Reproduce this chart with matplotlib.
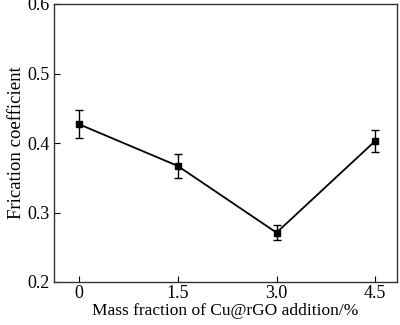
import matplotlib
matplotlib.use("Agg")
import matplotlib.pyplot as plt

# data
mass_fraction = [0, 1.5, 3.0, 4.5]
friction = [0.427, 0.367, 0.271, 0.403]
friction_err = [0.020, 0.017, 0.011, 0.016]
x_ticks = [0, 1.5, 3.0, 4.5]
x_tick_labels = ["0", "1.5", "3.0", "4.5"]
y_ticks = [0.2, 0.3, 0.4, 0.5, 0.6]

plt.rcParams["font.family"] = ["Liberation Serif", "DejaVu Serif"]

fig = plt.figure(figsize=(4.0, 3.25), dpi=100)
ax = fig.add_axes([54 / 400, 1 - 282 / 325, (397 - 54) / 400, (282 - 4) / 325])

ax.errorbar(
    mass_fraction, friction, yerr=friction_err,
    color="black", lw=1.3, marker="s", ms=5,
    elinewidth=1.0, capsize=3, capthick=1.0,
)

ax.set_xlim(-0.38, 4.83)
ax.set_ylim(0.2, 0.6)
ax.set_xticks(x_ticks)
ax.set_xticklabels(x_tick_labels)
ax.set_yticks(y_ticks)
ax.set_yticklabels(["%.1f" % v for v in y_ticks])
ax.tick_params(direction="in", length=4, width=0.8, labelsize=13,
               top=False, right=False)
ax.tick_params(axis="x", pad=2)
ax.tick_params(axis="y", pad=3)
for s in ax.spines.values():
    s.set_linewidth(1.0)
    s.set_color("#333333")

ax.set_xlabel("Mass fraction of Cu@rGO addition/%", fontsize=12.5, labelpad=1)
ax.set_ylabel("Frication coefficient", fontsize=13.5, labelpad=2)

fig.savefig("out.png", dpi=100)
